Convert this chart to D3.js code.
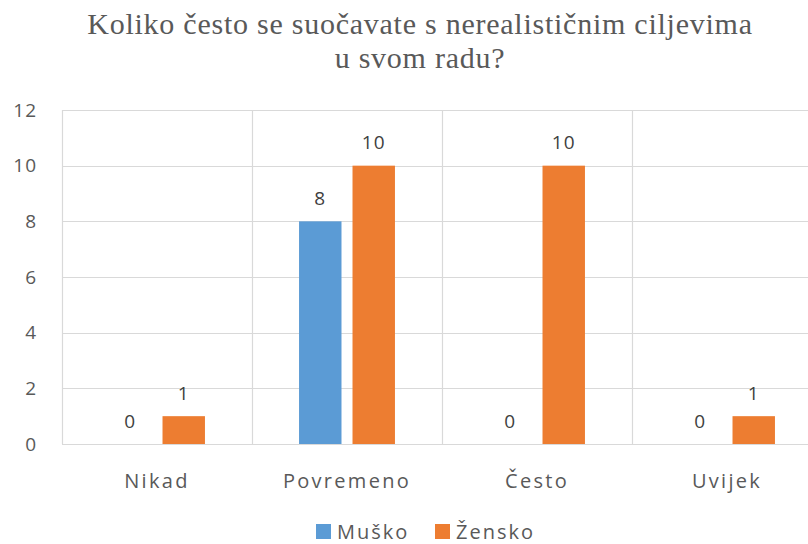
<!DOCTYPE html>
<html>
<head>
<meta charset="utf-8">
<script src="https://cdn.jsdelivr.net/npm/d3@7"></script>
<style>
  body { margin: 0; background: #fff; }
  svg { display: block; }
</style>
</head>
<body>
<svg id="chart"></svg>
<script>
// data
var categories = ["Nikad", "Povremeno", "Često", "Uvijek"];
var seriesNames = ["Muško", "Žensko"];
var musko = [0, 8, 0, 0];
var zensko = [1, 10, 10, 1];
var yTicks = [0, 2, 4, 6, 8, 10, 12];
var titleLines = ["Koliko često se suočavate s nerealističnim ciljevima", "u svom radu?"];

var colors = ["#5b9bd5", "#ed7d31"];
var width = 808, height = 544;
var plotLeft = 62, plotRight = 822, plotTop = 110, plotBottom = 444;
var labelFont = "Open Sans, sans-serif";

var svg = d3.select("#chart")
  .attr("width", width)
  .attr("height", height);

var rows = categories.map(function(c, i) {
  return { cat: c, values: [musko[i], zensko[i]] };
});

var x = d3.scaleBand().domain(categories).range([plotLeft, plotRight]);
var x1 = d3.scaleBand().domain(seriesNames).range([0, x.bandwidth()])
  .paddingInner(0.206).paddingOuter(0.88);
var y = d3.scaleLinear().domain([0, 12]).range([plotBottom, plotTop]);

// horizontal gridlines
svg.append("g").selectAll("line")
  .data(yTicks)
  .enter().append("line")
  .attr("x1", plotLeft).attr("x2", plotRight)
  .attr("y1", function(d) { return Math.round(y(d)) + 0.5; })
  .attr("y2", function(d) { return Math.round(y(d)) + 0.5; })
  .attr("stroke", "#d9d9d9").attr("stroke-width", 1.2);

// vertical category separators
svg.append("g").selectAll("line")
  .data(categories)
  .enter().append("line")
  .attr("x1", function(d) { return Math.round(x(d)) + 0.5; })
  .attr("x2", function(d) { return Math.round(x(d)) + 0.5; })
  .attr("y1", y(12)).attr("y2", y(0))
  .attr("stroke", "#d9d9d9").attr("stroke-width", 1.2);

// y tick labels
svg.append("g").selectAll("text")
  .data(yTicks)
  .enter().append("text")
  .attr("x", 37)
  .attr("y", function(d) { return y(d); })
  .attr("dy", "0.35em")
  .attr("text-anchor", "end")
  .attr("font-family", labelFont)
  .attr("font-size", 19)
  .attr("letter-spacing", 1)
  .attr("fill", "#595959")
  .text(function(d) { return d; });

// bars
var group = svg.append("g").selectAll("g")
  .data(rows)
  .enter().append("g")
  .attr("transform", function(d) { return "translate(" + x(d.cat) + ",0)"; });

group.selectAll("rect")
  .data(function(d) { return d.values.map(function(v, i) { return { name: seriesNames[i], value: v, i: i }; }); })
  .enter().append("rect")
  .attr("x", function(d) { return x1(d.name); })
  .attr("width", x1.bandwidth())
  .attr("y", function(d) { return y(d.value); })
  .attr("height", function(d) { return y(0) - y(d.value); })
  .attr("fill", function(d) { return colors[d.i]; });

group.selectAll("text")
  .data(function(d) { return d.values.map(function(v, i) { return { name: seriesNames[i], value: v }; }); })
  .enter().append("text")
  .attr("x", function(d) { return x1(d.name) + x1.bandwidth() / 2; })
  .attr("y", function(d) { return y(d.value) - 23; })
  .attr("dy", "0.35em")
  .attr("text-anchor", "middle")
  .attr("font-family", labelFont)
  .attr("font-size", 19)
  .attr("letter-spacing", 1)
  .attr("fill", "#404040")
  .text(function(d) { return d.value; });

// category labels
svg.append("g").selectAll("text")
  .data(categories)
  .enter().append("text")
  .attr("x", function(d) { return x(d) + x.bandwidth() / 2; })
  .attr("y", 481)
  .attr("dy", "0.35em")
  .attr("text-anchor", "middle")
  .attr("font-family", labelFont)
  .attr("font-size", 20)
  .attr("letter-spacing", 2.3)
  .attr("fill", "#595959")
  .text(function(d) { return d; });

// title
svg.append("text")
  .attr("x", 420).attr("y", 34)
  .attr("text-anchor", "middle")
  .attr("font-family", "Liberation Serif, serif")
  .attr("font-size", 30)
  .attr("letter-spacing", 0.75)
  .attr("fill", "#595959")
  .selectAll("tspan")
  .data(titleLines)
  .enter().append("tspan")
  .attr("x", 420)
  .attr("dy", function(d, i) { return i ? 34 : 0; })
  .text(function(d) { return d; });

// legend
var legendX = [316, 435];
var legend = svg.append("g").selectAll("g")
  .data(seriesNames)
  .enter().append("g")
  .attr("transform", function(d, i) { return "translate(" + legendX[i] + ",524)"; });
legend.append("rect")
  .attr("width", 15).attr("height", 15)
  .attr("fill", function(d, i) { return colors[i]; });
legend.append("text")
  .attr("x", 21).attr("y", 8)
  .attr("dy", "0.35em")
  .attr("font-family", labelFont)
  .attr("font-size", 20)
  .attr("letter-spacing", 2)
  .attr("fill", "#595959")
  .text(function(d) { return d; });
</script>
</body>
</html>
